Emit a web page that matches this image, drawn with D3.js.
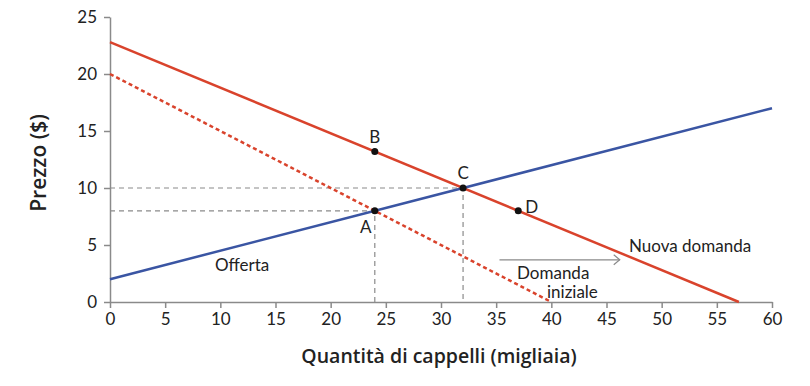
<!DOCTYPE html>
<html>
<head>
<meta charset="utf-8">
<script src="https://cdn.jsdelivr.net/npm/d3@7"></script>
<style>
  body { margin: 0; background: #fff; }
</style>
</head>
<body>
<svg width="810" height="386" font-family="Lato, sans-serif"></svg>
<script>
// data (quantity in thousands, price in $)
const xTicks = [0, 5, 10, 15, 20, 25, 30, 35, 40, 45, 50, 55, 60];
const yTicks = [0, 5, 10, 15, 20, 25];
const supply = [[0, 2], [60, 17]];
const initialDemand = [[0, 20], [40, 0]];
const newDemand = [[0, 22.8], [57, 0]];
const points = [
  { name: 'A', q: 24, p: 8 },
  { name: 'B', q: 24, p: 13.2 },
  { name: 'C', q: 32, p: 10 },
  { name: 'D', q: 37, p: 8 }
];
const guides = [[24, 8], [32, 10]];
const shiftArrow = [[35.3, 3.7], [46.2, 3.7]];

const svg = d3.select('svg');
svg.selectAll('*').remove();

const x = d3.scaleLinear().domain([0, 60]).range([110, 772]);
const y = d3.scaleLinear().domain([0, 25]).range([302, 17]);

const red = '#d9432c';
const blue = '#3a55a3';
const grey = '#8a8a8a';
const ink = '#222';

// axes
const xAxis = svg.append('g')
    .attr('transform', `translate(0, ${y(0)})`)
    .call(d3.axisBottom(x).tickValues(xTicks).tickSize(6).tickSizeOuter(0));
const yAxis = svg.append('g')
    .attr('transform', `translate(${x(0)}, 0)`)
    .call(d3.axisLeft(y).tickValues(yTicks).tickSize(6).tickSizeOuter(0));

[xAxis, yAxis].forEach(g => {
  g.attr('font-family', 'Lato, sans-serif').attr('font-size', 17);
  g.select('.domain').attr('stroke', grey).attr('stroke-width', 1.5);
  g.selectAll('.tick line').attr('stroke', grey).attr('stroke-width', 1.5);
  g.selectAll('.tick text').attr('fill', ink);
});
xAxis.selectAll('.tick text').attr('y', 11);
yAxis.selectAll('.tick text').attr('x', -13);

// axis titles
svg.append('text')
    .attr('x', x(30) - 2)
    .attr('y', 363)
    .attr('text-anchor', 'middle')
    .attr('font-family', '"Open Sans", sans-serif')
    .attr('font-size', 19.5)
    .attr('font-weight', 600)
    .attr('fill', ink)
    .text('Quantità di cappelli (migliaia)');
svg.append('text')
    .attr('transform', `translate(46, ${y(12.2)}) rotate(-90)`)
    .attr('text-anchor', 'middle')
    .attr('font-family', '"Open Sans", sans-serif')
    .attr('font-size', 21)
    .attr('font-weight', 600)
    .attr('fill', ink)
    .text('Prezzo ($)');

// dashed guides
guides.forEach(([q, p]) => {
  svg.append('path')
      .attr('d', d3.line()([[x(0), y(p)], [x(q), y(p)], [x(q), y(0)]]))
      .attr('fill', 'none')
      .attr('stroke', grey)
      .attr('stroke-width', 1.2)
      .attr('stroke-dasharray', '5,4');
});

const line = d3.line().x(d => x(d[0])).y(d => y(d[1]));

svg.append('path')
    .attr('d', line(initialDemand))
    .attr('fill', 'none')
    .attr('stroke', red)
    .attr('stroke-width', 2.5)
    .attr('stroke-dasharray', '4,3');

svg.append('path')
    .attr('d', line(newDemand))
    .attr('fill', 'none')
    .attr('stroke', red)
    .attr('stroke-width', 2.5);

svg.append('path')
    .attr('d', line(supply))
    .attr('fill', 'none')
    .attr('stroke', blue)
    .attr('stroke-width', 2.5);

// shift arrow
svg.append('path')
    .attr('d', line(shiftArrow))
    .attr('stroke', grey)
    .attr('stroke-width', 1.2);
const tip = shiftArrow[1];
svg.append('path')
    .attr('d', `M${x(tip[0]) - 6},${y(tip[1]) - 5} L${x(tip[0])},${y(tip[1])} L${x(tip[0]) - 6},${y(tip[1]) + 5}`)
    .attr('fill', 'none')
    .attr('stroke', grey)
    .attr('stroke-width', 1.2);

// points
svg.selectAll('circle.pt')
  .data(points)
  .join('circle')
    .attr('class', 'pt')
    .attr('cx', d => x(d.q))
    .attr('cy', d => y(d.p))
    .attr('r', 3.5)
    .attr('fill', '#111');

const labelOffset = { A: [-9, 22], B: [0, -9], C: [0, -9], D: [7, 2] };
svg.selectAll('text.pt')
  .data(points)
  .join('text')
    .attr('class', 'pt')
    .attr('x', d => x(d.q) + labelOffset[d.name][0])
    .attr('y', d => y(d.p) + labelOffset[d.name][1])
    .attr('text-anchor', d => d.name === 'D' ? 'start' : 'middle')
    .attr('font-size', 17)
    .attr('fill', ink)
    .text(d => d.name);

// curve labels
const labels = [
  { text: 'Nuova domanda', x: 629, y: 252 },
  { text: 'Domanda', x: 517, y: 279 },
  { text: 'iniziale', x: 547, y: 298 },
  { text: 'Offerta', x: 215, y: 271 }
];
svg.selectAll('text.lbl')
  .data(labels)
  .join('text')
    .attr('class', 'lbl')
    .attr('x', d => d.x)
    .attr('y', d => d.y)
    .attr('font-size', 17)
    .attr('fill', ink)
    .text(d => d.text);
</script>
</body>
</html>
